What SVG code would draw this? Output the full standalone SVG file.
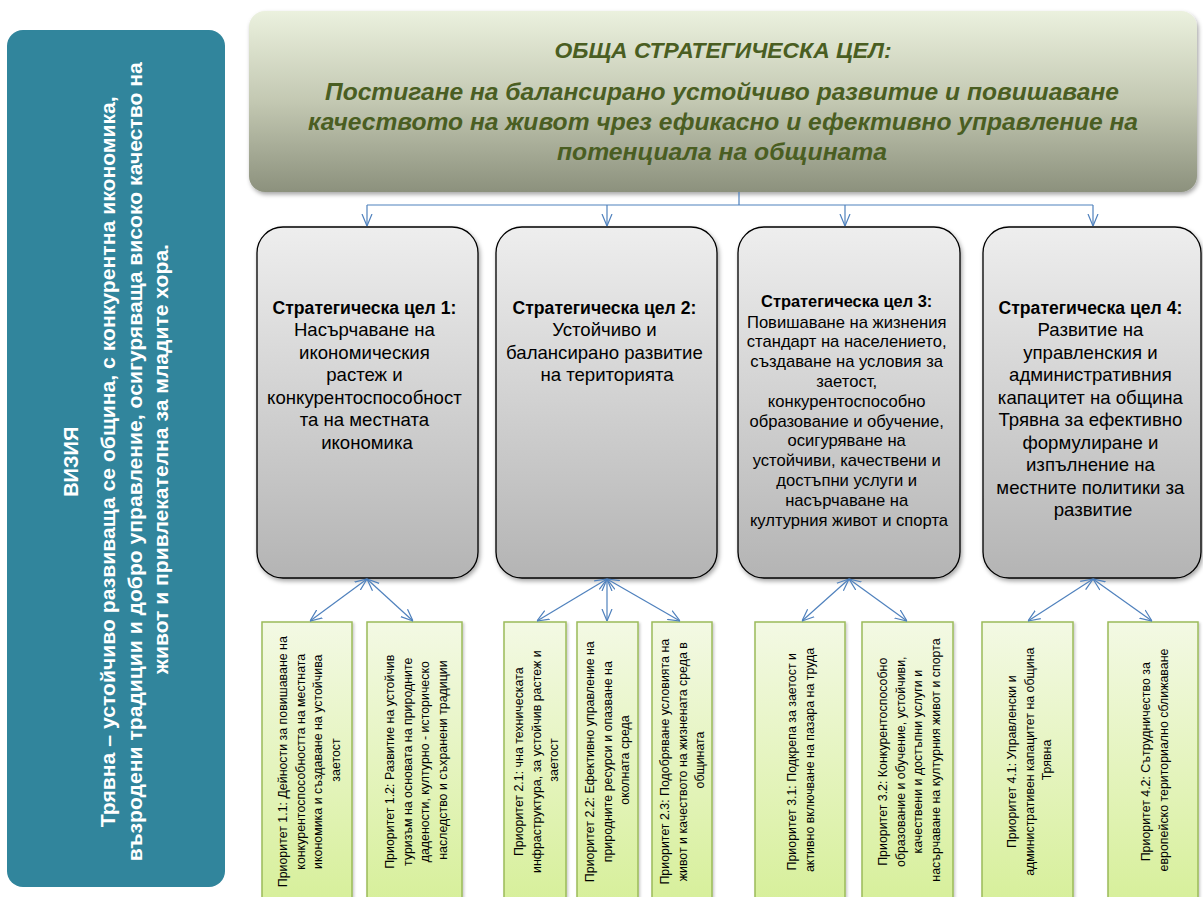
<svg xmlns="http://www.w3.org/2000/svg" width="1203" height="897" viewBox="0 0 1203 897">
<defs>
<linearGradient id="gTop" x1="0" y1="0" x2="0" y2="1">
<stop offset="0" stop-color="#EBF1DE"/>
<stop offset="0.5" stop-color="#C3C8B2"/>
<stop offset="1" stop-color="#8C917D"/>
</linearGradient>
<linearGradient id="gGoal" x1="0" y1="0" x2="0" y2="1">
<stop offset="0" stop-color="#EEEEEE"/>
<stop offset="1" stop-color="#B4B4B4"/>
</linearGradient>
<linearGradient id="gPri" x1="0" y1="0" x2="0" y2="1">
<stop offset="0" stop-color="#F3F9E4"/>
<stop offset="1" stop-color="#D6EF98"/>
</linearGradient>
<filter id="sh" x="-10%" y="-10%" width="120%" height="125%">
<feDropShadow dx="1.5" dy="2.5" stdDeviation="2" flood-color="#000" flood-opacity="0.35"/>
</filter>
<filter id="sh2" x="-10%" y="-10%" width="130%" height="120%">
<feDropShadow dx="1.5" dy="1.5" stdDeviation="1.2" flood-color="#000" flood-opacity="0.2"/>
</filter>
<marker id="ah" viewBox="0 0 12 12" refX="12" refY="6" markerWidth="12" markerHeight="12" markerUnits="userSpaceOnUse" orient="auto-start-reverse">
<path d="M0,1 L12,6 L0,11" fill="none" stroke="#4F81BD" stroke-width="1.2"/>
</marker>
</defs>
<style>
.vis{fill:#FFFFFF;font-family:"Liberation Sans",Arial,sans-serif;font-weight:bold;font-size:20px;text-anchor:middle}
.top{fill:#4A5E22;font-family:"Liberation Sans",Arial,sans-serif;font-weight:bold;font-style:italic;text-anchor:middle}
.goal{fill:url(#gGoal);stroke:#000;stroke-width:1.3;filter:url(#sh)}
.gt{fill:#000;font-family:"Liberation Sans",Arial,sans-serif;font-size:18.6px;text-anchor:middle}
.gt3{fill:#000;font-family:"Liberation Sans",Arial,sans-serif;font-size:16.6px;text-anchor:middle}
.b{font-weight:bold}
.gt .b{font-size:17.6px}
.gt3 .b{font-size:16.4px}
.pri{fill:url(#gPri);stroke:#9BBB59;stroke-width:1.5;filter:url(#sh2)}
.pt{fill:#000;font-family:"Liberation Sans",Arial,sans-serif;font-size:12.4px;text-anchor:middle}
.con{fill:none;stroke:#4F81BD;stroke-width:1.2}
</style>
<rect width="1203" height="897" fill="#FFFFFF"/>

<g id="vision">
<rect x="7" y="30" width="218" height="857" rx="16" ry="16" fill="#31859C"/>
<text class="vis" transform="translate(0,459) rotate(-90)">
<tspan x="0" y="78">ВИЗИЯ</tspan>
<tspan x="0" y="115" textLength="731" lengthAdjust="spacingAndGlyphs">Трявна – устойчиво развиваща се община, с конкурентна икономика,</tspan>
<tspan x="0" y="141.5" textLength="799" lengthAdjust="spacingAndGlyphs">възродени традиции и добро управление, осигуряваща високо качество на</tspan>
<tspan x="0" y="168" textLength="430" lengthAdjust="spacingAndGlyphs">живот и привлекателна за младите хора.</tspan>
</text>
</g>

<g id="general-goal">
<rect x="249" y="11" width="948" height="181" rx="16" ry="16" fill="url(#gTop)" filter="url(#sh)"/>
<text class="top" font-size="22" x="723" y="58" textLength="337" lengthAdjust="spacingAndGlyphs">ОБЩА СТРАТЕГИЧЕСКА ЦЕЛ:</text>
<text class="top" font-size="24" x="722" y="100" textLength="794" lengthAdjust="spacingAndGlyphs">Постигане на балансирано устойчиво развитие и повишаване</text>
<text class="top" font-size="24" x="723" y="130" textLength="830" lengthAdjust="spacingAndGlyphs">качеството на живот чрез ефикасно и ефективно управление на</text>
<text class="top" font-size="24" x="722" y="160" textLength="330" lengthAdjust="spacingAndGlyphs">потенциала на общината</text>
</g>

<g id="goal1">
<rect class="goal" x="257" y="227" width="221" height="351" rx="26" ry="26"/>
<text class="gt">
<tspan class="b" x="367" y="314">Стратегическа цел 1:</tspan>
<tspan x="367" y="336">Насърчаване на</tspan>
<tspan x="367" y="358.5">икономическия</tspan>
<tspan x="367" y="381">растеж и</tspan>
<tspan x="367" y="403.5">конкурентоспособност</tspan>
<tspan x="367" y="426">та на местната</tspan>
<tspan x="367" y="448.5">икономика</tspan>
</text>
</g>

<g id="goal2">
<rect class="goal" x="496" y="227" width="221" height="351" rx="26" ry="26"/>
<text class="gt">
<tspan class="b" x="607" y="314">Стратегическа цел 2:</tspan>
<tspan x="607" y="336">Устойчиво и</tspan>
<tspan x="607" y="358.5">балансирано развитие</tspan>
<tspan x="607" y="381">на територията</tspan>
</text>
</g>

<g id="goal3">
<rect class="goal" x="738" y="227" width="222" height="351" rx="26" ry="26"/>
<text class="gt3">
<tspan class="b" x="849" y="307">Стратегическа цел 3:</tspan>
<tspan x="849" y="327.5">Повишаване на жизнения</tspan>
<tspan x="849" y="347.3">стандарт на населението,</tspan>
<tspan x="849" y="367.1">създаване на условия за</tspan>
<tspan x="849" y="386.9">заетост,</tspan>
<tspan x="849" y="406.7">конкурентоспособно</tspan>
<tspan x="849" y="426.5">образование и обучение,</tspan>
<tspan x="849" y="446.3">осигуряване на</tspan>
<tspan x="849" y="466.1">устойчиви, качествени и</tspan>
<tspan x="849" y="485.9">достъпни услуги и</tspan>
<tspan x="849" y="505.7">насърчаване на</tspan>
<tspan x="849" y="525.5">културния живот и спорта</tspan>
</text>
</g>

<g id="goal4">
<rect class="goal" x="983" y="227" width="218" height="351" rx="26" ry="26"/>
<text class="gt">
<tspan class="b" x="1093" y="314">Стратегическа цел 4:</tspan>
<tspan x="1093" y="336">Развитие на</tspan>
<tspan x="1093" y="358.5">управленския и</tspan>
<tspan x="1093" y="381">административния</tspan>
<tspan x="1093" y="403.5">капацитет на община</tspan>
<tspan x="1093" y="426">Трявна за ефективно</tspan>
<tspan x="1093" y="448.5">формулиране и</tspan>
<tspan x="1093" y="471">изпълнение на</tspan>
<tspan x="1093" y="493.5">местните политики за</tspan>
<tspan x="1093" y="516">развитие</tspan>
</text>
</g>

<g id="p11">
<rect class="pri" x="262" y="622" width="90" height="290"/>
<text class="pt" transform="translate(0,760) rotate(-90)">
<tspan x="0" y="287">Приоритет 1.1: Дейности за повишаване на</tspan>
<tspan x="0" y="304.5">конкурентоспособността на местната</tspan>
<tspan x="0" y="322">икономика и създаване на устойчива</tspan>
<tspan x="0" y="339.5">заетост</tspan>
</text>
</g>
<g id="p12">
<rect class="pri" x="367" y="622" width="95" height="290"/>
<text class="pt" transform="translate(0,760) rotate(-90)">
<tspan x="0" y="394">Приоритет 1.2: Развитие на устойчив</tspan>
<tspan x="0" y="411.5">туризъм на основата на природните</tspan>
<tspan x="0" y="429">дадености, културно - историческо</tspan>
<tspan x="0" y="446.5">наследство и съхранени традиции</tspan>
</text>
</g>
<g id="p21">
<rect class="pri" x="504" y="622" width="62" height="290"/>
<text class="pt" transform="translate(0,760) rotate(-90)">
<tspan x="0" y="523">Приоритет 2.1: чна техническата</tspan>
<tspan x="0" y="540.5">инфраструктура, за устойчив растеж и</tspan>
<tspan x="0" y="558">заетост</tspan>
</text>
</g>
<g id="p22">
<rect class="pri" x="577" y="622" width="61" height="290"/>
<text class="pt" transform="translate(0,760) rotate(-90)">
<tspan x="0" y="594">Приоритет 2.2: Ефективно управление на</tspan>
<tspan x="0" y="611.5">природните ресурси и опазване на</tspan>
<tspan x="0" y="629">околната среда</tspan>
</text>
</g>
<g id="p23">
<rect class="pri" x="652" y="622" width="60" height="290"/>
<text class="pt" transform="translate(0,760) rotate(-90)">
<tspan x="0" y="669">Приоритет 2.3: Подобряване условията на</tspan>
<tspan x="0" y="686.5">живот и качеството на жизнената среда в</tspan>
<tspan x="0" y="704">общината</tspan>
</text>
</g>
<g id="p31">
<rect class="pri" x="755" y="622" width="90" height="290"/>
<text class="pt" transform="translate(0,760) rotate(-90)">
<tspan x="0" y="796">Приоритет 3.1: Подкрепа за заетост и</tspan>
<tspan x="0" y="814">активно включване на пазара на труда</tspan>
</text>
</g>
<g id="p32">
<rect class="pri" x="862" y="622" width="91" height="290"/>
<text class="pt" transform="translate(0,760) rotate(-90)">
<tspan x="0" y="887">Приоритет 3.2: Конкурентоспособно</tspan>
<tspan x="0" y="904.5">образование и обучение, устойчиви,</tspan>
<tspan x="0" y="922">качествени и достъпни услуги и</tspan>
<tspan x="0" y="939.5">насърчаване на културния живот и спорта</tspan>
</text>
</g>
<g id="p41">
<rect class="pri" x="982" y="622" width="91" height="290"/>
<text class="pt" transform="translate(0,760) rotate(-90)">
<tspan x="0" y="1016">Приоритет 4.1: Управленски и</tspan>
<tspan x="0" y="1033.5">административен  капацитет на община</tspan>
<tspan x="0" y="1051">Трявна</tspan>
</text>
</g>
<g id="p42">
<rect class="pri" x="1108" y="622" width="90" height="290"/>
<text class="pt" transform="translate(0,760) rotate(-90)">
<tspan x="0" y="1150">Приоритет 4.2: Сътрудничество за</tspan>
<tspan x="0" y="1167.5">европейско териториално сближаване</tspan>
</text>
</g>

<g id="connectors">
<path class="con" d="M739,192 V205 M367,205 H1093"/>
<path class="con" d="M367,205 V226" marker-end="url(#ah)"/>
<path class="con" d="M607,205 V226" marker-end="url(#ah)"/>
<path class="con" d="M845,205 V226" marker-end="url(#ah)"/>
<path class="con" d="M1093,205 V226" marker-end="url(#ah)"/>
<path class="con" d="M367,579 L310,621" marker-start="url(#ah)" marker-end="url(#ah)"/>
<path class="con" d="M367,579 L413,621" marker-start="url(#ah)" marker-end="url(#ah)"/>
<path class="con" d="M607,579 L537,621" marker-start="url(#ah)" marker-end="url(#ah)"/>
<path class="con" d="M607,579 L607,621" marker-start="url(#ah)" marker-end="url(#ah)"/>
<path class="con" d="M607,579 L680,621" marker-start="url(#ah)" marker-end="url(#ah)"/>
<path class="con" d="M849,579 L802,621" marker-start="url(#ah)" marker-end="url(#ah)"/>
<path class="con" d="M849,579 L907,621" marker-start="url(#ah)" marker-end="url(#ah)"/>
<path class="con" d="M1093,579 L1028,621" marker-start="url(#ah)" marker-end="url(#ah)"/>
<path class="con" d="M1093,579 L1152,621" marker-start="url(#ah)" marker-end="url(#ah)"/>
</g>
</svg>
